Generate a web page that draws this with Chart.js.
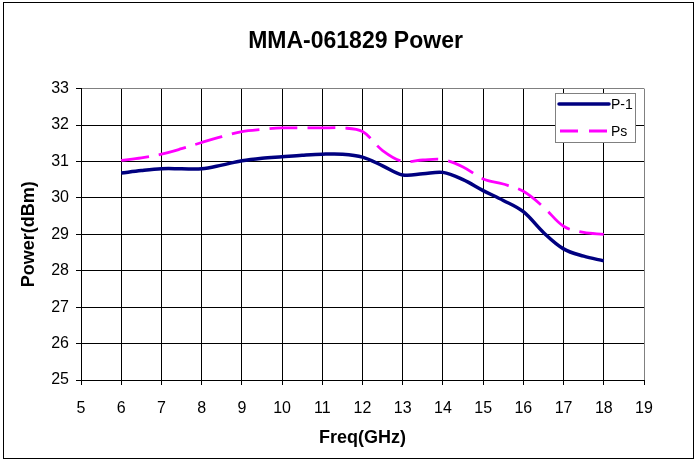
<!DOCTYPE html>
<html>
<head>
<meta charset="utf-8">
<script src="https://cdn.jsdelivr.net/npm/chart.js@4/dist/chart.umd.min.js"></script>
<style>
  html, body { margin: 0; padding: 0; background: #fff; }
  canvas { display: block; }
</style>
</head>
<body>
<canvas id="c" width="697" height="460"></canvas>
<script>
// ---- data ----
const freqGHz = [6, 6.5, 7, 7.5, 8, 8.5, 9, 9.5, 10, 10.5, 11, 11.5, 12, 12.5, 13, 13.5, 14, 14.5, 15, 15.5, 16, 16.5, 17, 17.5, 18];
const p1 = [30.68, 30.75, 30.80, 30.80, 30.80, 30.90, 31.02, 31.09, 31.13, 31.17, 31.20, 31.20, 31.12, 30.88, 30.63, 30.66, 30.70, 30.50, 30.20, 29.93, 29.62, 29.05, 28.60, 28.40, 28.27];
const ps = [31.03, 31.10, 31.20, 31.35, 31.52, 31.68, 31.82, 31.88, 31.92, 31.92, 31.92, 31.92, 31.82, 31.30, 31.00, 31.04, 31.05, 30.85, 30.52, 30.38, 30.18, 29.75, 29.22, 29.05, 29.00];
const seriesNames = ['P-1', 'Ps'];
const chartTitle = 'MMA-061829 Power';
const xTitle = 'Freq(GHz)';
const yTitle = 'Power(dBm)';
const xRange = [5, 19];
const yRange = [25, 33];

const FONT = "'Liberation Sans', Arial, sans-serif";

const toPts = (arr) => arr.map((v, i) => ({ x: freqGHz[i], y: v }));

const insideLegend = {
  id: 'insideLegend',
  afterDatasetsDraw(chart) {
    const ctx = chart.ctx;
    const x0 = 555, y0 = 93, w = 80, h = 49;
    ctx.save();
    ctx.fillStyle = '#fff';
    ctx.fillRect(x0, y0, w, h);
    ctx.strokeStyle = '#808080';
    ctx.lineWidth = 1;
    ctx.strokeRect(x0 + 0.5, y0 + 0.5, w, h);
    chart.data.datasets.forEach((ds, i) => {
      const ly = y0 + 11 + i * 27;
      ctx.beginPath();
      ctx.strokeStyle = ds.borderColor;
      ctx.lineWidth = ds.borderWidth;
      const dashed = ds.borderDash && ds.borderDash.length;
      ctx.setLineDash(dashed ? [18, 11] : []);
      ctx.lineCap = dashed ? 'butt' : 'round';
      ctx.moveTo(dashed ? 560 : 559, ly);
      ctx.lineTo(609, ly);
      ctx.stroke();
      ctx.setLineDash([]);
      ctx.fillStyle = '#000';
      ctx.font = '14px ' + FONT;
      ctx.textBaseline = 'middle';
      ctx.textAlign = 'left';
      ctx.fillText(ds.label, 611, ly + 1);
    });
    ctx.restore();
  }
};

const outerBorder = {
  id: 'outerBorder',
  afterDraw(chart) {
    const ctx = chart.ctx;
    ctx.save();
    ctx.strokeStyle = '#000';
    ctx.lineWidth = 1;
    ctx.strokeRect(3.5, 2.5, 690, 456);
    ctx.restore();
  }
};

new Chart(document.getElementById('c'), {
  type: 'line',
  data: {
    datasets: [
      {
        label: seriesNames[0],
        data: toPts(p1),
        borderColor: '#000080',
        borderWidth: 3.5,
        pointRadius: 0,
        tension: 0.35,
        fill: false
      },
      {
        label: seriesNames[1],
        data: toPts(ps),
        borderColor: '#FF00FF',
        borderWidth: 2.8,
        borderDash: [28, 10],
        pointRadius: 0,
        tension: 0.35,
        fill: false
      }
    ]
  },
  options: {
    responsive: false,
    animation: false,
    devicePixelRatio: 1,
    layout: { padding: { left: 14, right: 0, top: 0, bottom: 0 } },
    plugins: {
      legend: { display: false },
      tooltip: { enabled: false },
      title: {
        display: true,
        text: chartTitle,
        color: '#000',
        font: { family: FONT, size: 23, weight: 'bold' },
        padding: { top: 28, bottom: 33 }
      }
    },
    scales: {
      x: {
        type: 'linear',
        min: xRange[0],
        max: xRange[1],
        afterFit: (s) => { s.height = 80; },
        ticks: {
          stepSize: 1,
          color: '#000',
          padding: 14,
          maxRotation: 0,
          font: { family: FONT, size: 16 }
        },
        grid: {
          color: (c) => (c.tick && c.tick.value === xRange[1]) ? '#808080' : '#000',
          tickColor: '#000',
          tickLength: 5,
          lineWidth: 1
        },
        border: { color: '#000', width: 1 },
        title: {
          display: true,
          text: xTitle,
          color: '#000',
          font: { family: FONT, size: 18, weight: 'bold' },
          padding: { top: 0, bottom: 11 }
        }
      },
      y: {
        type: 'linear',
        min: yRange[0],
        max: yRange[1],
        afterFit: (s) => { s.width = 67; },
        ticks: {
          stepSize: 1,
          color: '#000',
          padding: 7,
          font: { family: FONT, size: 16 }
        },
        grid: {
          color: (c) => (c.tick && c.tick.value === yRange[1]) ? '#808080' : '#000',
          tickColor: '#000',
          tickLength: 5,
          lineWidth: 1
        },
        border: { color: '#000', width: 1 },
        title: {
          display: true,
          text: yTitle,
          color: '#000',
          font: { family: FONT, size: 18, weight: 'bold' },
          padding: { top: 4, bottom: 0 }
        }
      },
      yRight: {
        type: 'linear',
        position: 'right',
        min: yRange[0],
        max: yRange[1],
        afterFit: (s) => { s.width = 53; },
        ticks: { display: false },
        grid: { display: false, drawOnChartArea: false },
        border: { display: false }
      }
    }
  },
  plugins: [insideLegend, outerBorder]
});
</script>
</body>
</html>
